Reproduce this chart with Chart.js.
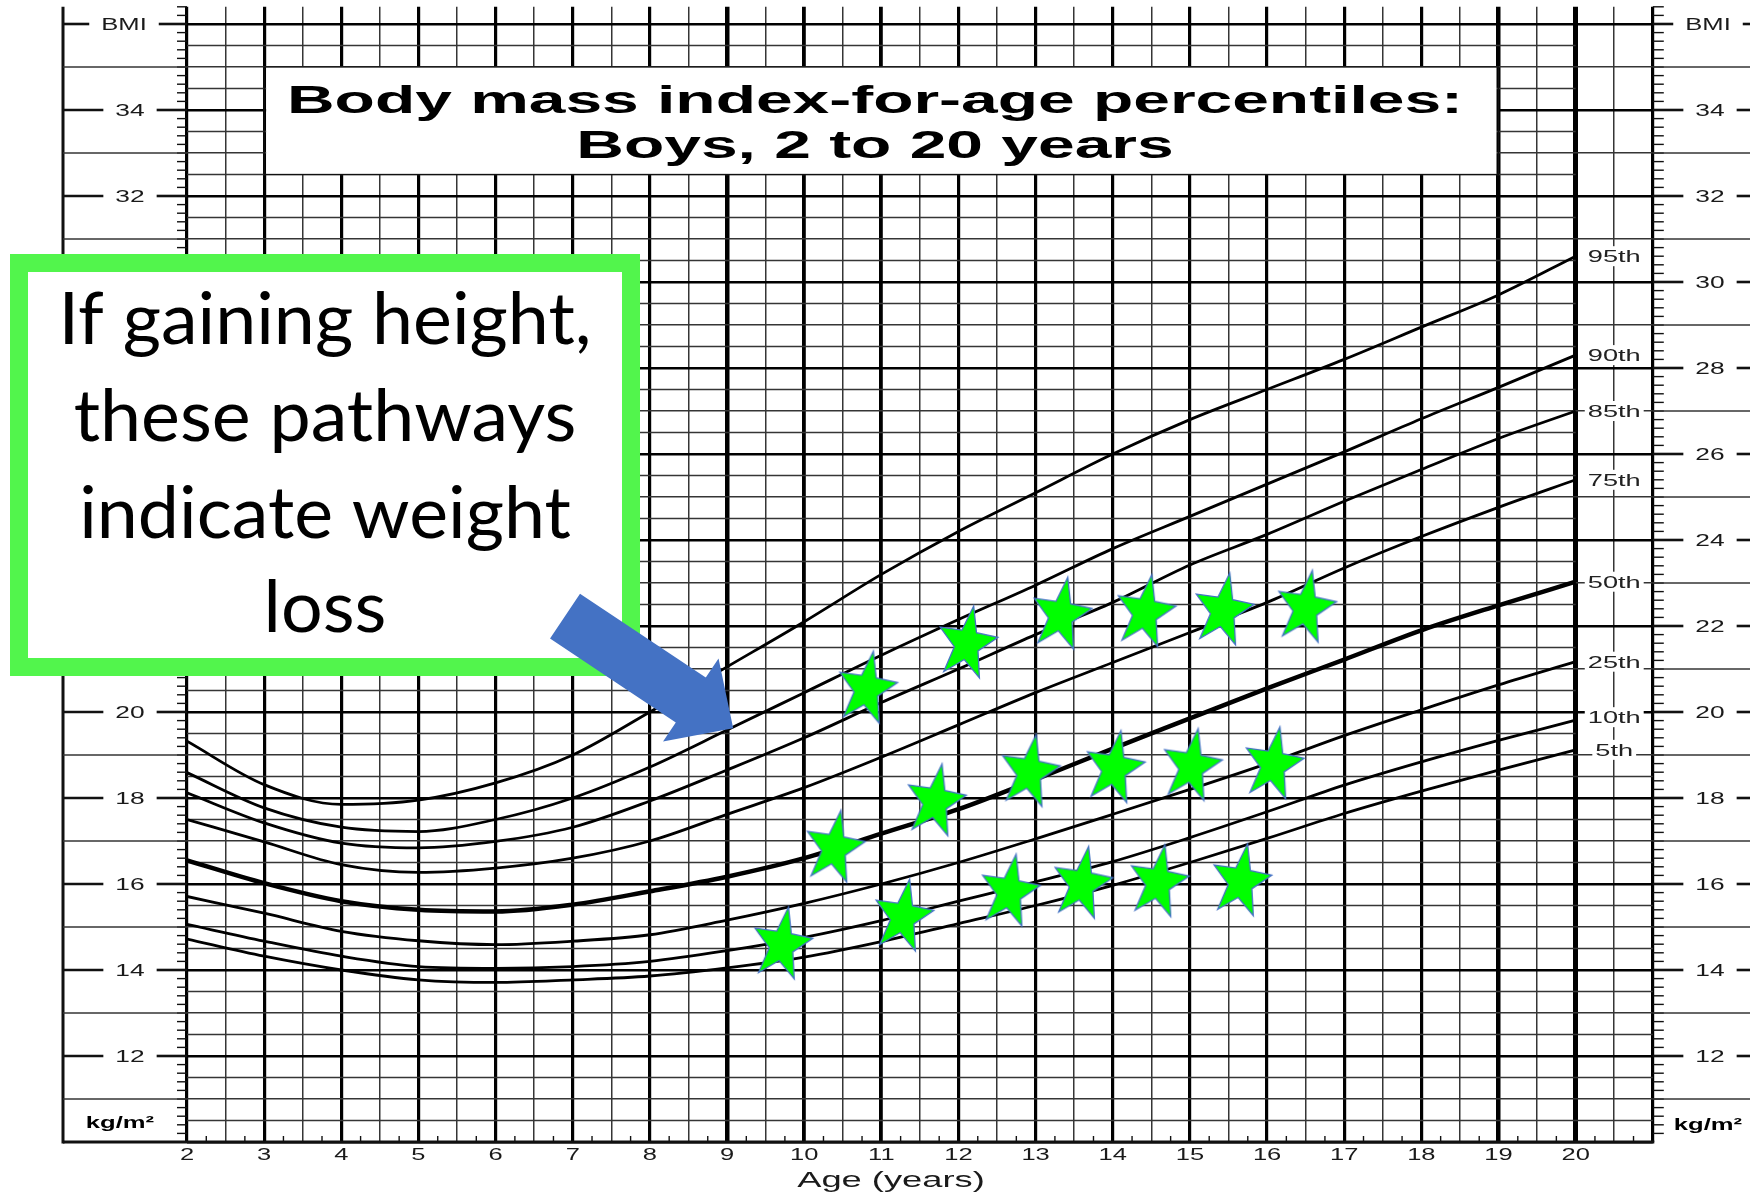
<!DOCTYPE html>
<html>
<head>
<meta charset="utf-8">
<title>BMI-for-age percentiles, boys 2 to 20 years</title>
<script src="https://cdn.jsdelivr.net/npm/chart.js@4.4.1/dist/chart.umd.min.js"></script>
<style>
  html, body { margin: 0; padding: 0; background: #fff; }
  #wrap { position: relative; width: 1750px; height: 1193px; }
</style>
</head>
<body>
<div id="wrap"><canvas id="chart"></canvas></div>
<script>
// percentile curves at whole years of age
const ages = [2,3,4,5,6,7,8,9,10,11,12,13,14,15,16,17,18,19,20];
const p95 = [19.32,18.31,17.85,17.95,18.35,19.0,20.0,21.05,22.1,23.2,24.2,25.1,26.0,26.8,27.5,28.2,28.95,29.7,30.6];
const p90 = [18.59,17.77,17.32,17.22,17.5,18.0,18.72,19.58,20.45,21.32,22.15,22.95,23.8,24.55,25.3,26.05,26.82,27.55,28.3];
const p85 = [18.12,17.42,16.95,16.84,16.99,17.32,17.93,18.65,19.4,20.22,21.0,21.8,22.55,23.42,24.13,24.9,25.64,26.36,27.0];
const p75 = [17.5,16.98,16.45,16.27,16.37,16.6,17.0,17.62,18.24,18.95,19.7,20.45,21.15,21.85,22.55,23.35,24.08,24.76,25.4];
const p50 = [16.55,16.02,15.6,15.4,15.36,15.52,15.83,16.17,16.6,17.17,17.74,18.43,19.15,19.85,20.55,21.22,21.9,22.48,23.03];
const p25 = [15.71,15.32,14.9,14.68,14.59,14.67,14.82,15.16,15.55,16.0,16.5,17.05,17.62,18.2,18.8,19.45,20.05,20.63,21.17];
const p10 = [15.06,14.67,14.32,14.08,14.04,14.08,14.2,14.45,14.76,15.15,15.6,16.05,16.52,17.08,17.68,18.3,18.84,19.34,19.81];
const p5  = [14.72,14.32,14.0,13.77,13.71,13.77,13.86,14.05,14.3,14.66,15.08,15.5,15.97,16.5,17.06,17.64,18.16,18.65,19.12];
const pctNames = ['95th','90th','85th','75th','50th','25th','10th','5th'];
const pctSeries = [p95, p90, p85, p75, p50, p25, p10, p5];

// green stars: [age, BMI]
const starsHigh = [[10.81,20.6],[12.11,21.65],[13.33,22.32],[14.42,22.38],[15.43,22.42],[16.5,22.48]];
const starsMid  = [[10.39,16.9],[11.7,17.98],[12.92,18.66],[14.02,18.75],[15.02,18.8],[16.08,18.84]];
const starsLow  = [[9.71,14.65],[11.28,15.3],[12.66,15.88],[13.6,16.06],[14.59,16.1],[15.66,16.12]];

const ageLabels = [2,3,4,5,6,7,8,9,10,11,12,13,14,15,16,17,18,19,20];
const bmiLabels = [12,14,16,18,20,22,24,26,28,30,32,34];
const titleLines = ['Body mass index-for-age percentiles:', 'Boys, 2 to 20 years'];
const noteLines = ['If gaining height,', 'these pathways', 'indicate weight', 'loss'];
const arrowFrom = [6.9, 22.23];
const arrowTo = [9.08, 19.62];

const INK = '#111';
const THIN = '#353535';
const SANS = '"Liberation Sans", Arial, Helvetica, sans-serif';

function isInt(v){ return Math.abs(v - Math.round(v)) < 1e-6; }

// the chart's lettering is a wide grotesque, so stretch it sideways
function wide(ctx, txt, x, y, font, sx, align, base, color){
  ctx.save();
  ctx.font = font;
  ctx.fillStyle = color || '#1a1a1a';
  ctx.textAlign = align || 'center';
  ctx.textBaseline = base || 'alphabetic';
  ctx.translate(x, y);
  ctx.scale(sx, 1);
  ctx.fillText(txt, 0, 0);
  ctx.restore();
}
function textW(ctx, txt, font){ ctx.save(); ctx.font = font; const w = ctx.measureText(txt).width; ctx.restore(); return w; }

function makeStar(){
  const c = document.createElement('canvas');
  c.width = 76; c.height = 84;
  const g = c.getContext('2d');
  g.translate(38, 45);
  g.rotate(10 * Math.PI / 180);
  g.beginPath();
  for(let k = 0; k < 10; k++){
    const r = k % 2 ? 15.8 : 38.5;
    const a = -Math.PI / 2 + k * Math.PI / 5;
    g.lineTo(Math.cos(a) * r * 0.8, Math.sin(a) * r);
  }
  g.closePath();
  g.fillStyle = '#00ff00';
  g.fill();
  g.strokeStyle = '#4472c4';
  g.lineWidth = 1.3;
  g.stroke();
  return c;
}

function line(ctx, x0, y0, x1, y1){ ctx.beginPath(); ctx.moveTo(x0, y0); ctx.lineTo(x1, y1); ctx.stroke(); }

const paper = {
  id: 'paper',
  beforeDraw(chart){
    const {ctx, width, height} = chart;
    ctx.save(); ctx.fillStyle = '#fff'; ctx.fillRect(0, 0, width, height); ctx.restore();
  },
  beforeDatasetsDraw(chart){
    const {ctx, chartArea: a, scales: {x, y}} = chart;
    ctx.save();
    // half-unit BMI lines (label column 20-21 keeps only whole units up high)
    ctx.strokeStyle = THIN; ctx.lineWidth = 1.5;
    for(let v = 10.5; v < 36.4; v += 1){
      const py = y.getPixelForValue(v);
      const end = v <= 18.5 ? a.right : x.getPixelForValue(20);
      line(ctx, a.left, py, end, py);
    }
    // title box
    const bx0 = x.getPixelForValue(3), bx1 = x.getPixelForValue(19);
    const by0 = y.getPixelForValue(35), by1 = y.getPixelForValue(32.5);
    ctx.fillStyle = '#fff';
    ctx.fillRect(bx0 + 2, by0, bx1 - bx0 - 4, by1 - by0);
    ctx.strokeStyle = INK; ctx.lineWidth = 1.3;
    ctx.strokeRect(bx0, by0, bx1 - bx0, by1 - by0);
    const tf = 'bold 38px ' + SANS;
    const sx = 1176 / textW(ctx, titleLines[0], tf);
    wide(ctx, titleLines[0], 875, by0 + 45.5, tf, sx, 'center', 'alphabetic', '#000');
    wide(ctx, titleLines[1], 875, by0 + 91, tf, sx, 'center', 'alphabetic', '#000');
    ctx.restore();
  },
  afterDraw(chart){
    const {ctx, chartArea: a, scales: {x, y}} = chart;
    const L0 = 63, RMAX = chart.width;
    const lf = '17px ' + SANS;
    ctx.save();
    ctx.strokeStyle = INK;
    // outer frame: left rule and base line
    ctx.lineWidth = 3;
    line(ctx, L0, a.top, L0, a.bottom + 1.5);
    line(ctx, L0, a.bottom, a.right + 1.5, a.bottom);

    // small BMI ticks every 0.2 on both sides
    ctx.lineWidth = 1.4;
    for(let k = 1; k <= 132; k++){
      const v = 10 + k * 0.2;
      const py = y.getPixelForValue(v);
      line(ctx, a.left - 10, py, a.left, py);
      line(ctx, a.right, py, a.right + 11, py);
    }
    // odd whole units run through the label columns
    ctx.strokeStyle = THIN; ctx.lineWidth = 1.5;
    for(let v = 11; v <= 35; v += 2){
      const py = y.getPixelForValue(v);
      line(ctx, L0, py, a.left, py);
      line(ctx, a.right, py, RMAX, py);
    }
    // even units: "— 34 —" on both sides
    const rows = bmiLabels.map(v => [v, String(v), 130, 1710]).concat([[36, 'BMI', 124, 1708]]);
    rows.forEach(([v, t, lx, rx]) => {
      const py = y.getPixelForValue(v);
      const f = t === 'BMI' ? '16px ' + SANS : lf;
      const s = t === 'BMI' ? 1.6 : 1.55;
      const half = textW(ctx, t, f) * s / 2 + 12;
      ctx.strokeStyle = INK; ctx.lineWidth = 2.6;
      line(ctx, L0, py, lx - half, py);
      line(ctx, lx + half, py, a.left, py);
      line(ctx, a.right, py, rx - half, py);
      line(ctx, rx + half, py, RMAX, py);
      wide(ctx, t, lx, py + 6, f, s, 'center', 'alphabetic');
      wide(ctx, t, rx, py + 6, f, s, 'center', 'alphabetic');
    });
    const kf = 'bold 16px ' + SANS;
    wide(ctx, 'kg/m²', 120, y.getPixelForValue(10.44) + 5, kf, 1.6, 'center', 'alphabetic', '#000');
    wide(ctx, 'kg/m²', 1708, y.getPixelForValue(10.4) + 5, kf, 1.6, 'center', 'alphabetic', '#000');

    // quarter-year ticks and age labels
    ctx.strokeStyle = INK; ctx.lineWidth = 1.4;
    for(let t = 2.25; t < 21; t += 0.5){
      const px = x.getPixelForValue(t);
      line(ctx, px, a.bottom, px, a.bottom - 6);
    }
    ageLabels.forEach(v => wide(ctx, String(v), x.getPixelForValue(v), a.bottom + 18, lf, 1.5, 'center', 'alphabetic'));
    wide(ctx, 'Age (years)', 891, 1187, '22px ' + SANS, 1.65, 'center', 'alphabetic');

    // percentile names in the 20-21 column
    const pf = '17px ' + SANS;
    const cx = x.getPixelForValue(20.5);
    pctSeries.forEach((s, i) => {
      const py = y.getPixelForValue(s[s.length - 1]) - (pctNames[i] === '10th' ? 3 : 0);
      const w = textW(ctx, pctNames[i], pf) * 1.6;
      ctx.fillStyle = '#fff';
      ctx.fillRect(cx - w / 2 - 3, py - 10, w + 6, 20);
      wide(ctx, pctNames[i], cx, py + 6, pf, 1.6, 'center', 'alphabetic', '#222');
    });

    // callout box
    ctx.fillStyle = '#fff';
    ctx.fillRect(10, 254, 630, 422);
    ctx.strokeStyle = '#52f54c'; ctx.lineWidth = 18;
    ctx.strokeRect(19, 263, 612, 404);
    const nf = '71px Lato, "Open Sans", sans-serif';
    const ns = 533 / textW(ctx, noteLines[0], nf);
    [344, 441, 538, 632].forEach((by, i) => wide(ctx, noteLines[i], 325, by, nf, ns, 'center', 'alphabetic', '#000'));

    // block arrow
    const tx = x.getPixelForValue(arrowFrom[0]), ty = y.getPixelForValue(arrowFrom[1]);
    const hx = x.getPixelForValue(arrowTo[0]), hy = y.getPixelForValue(arrowTo[1]);
    const len = Math.hypot(hx - tx, hy - ty);
    const ux = (hx - tx) / len, uy = (hy - ty) / len, nx = -uy, ny = ux;
    const sh = 27, hh = 50, hl = 51;
    const bx = hx - ux * hl, by = hy - uy * hl;
    ctx.fillStyle = '#4472c4';
    ctx.beginPath();
    ctx.moveTo(tx + nx * sh, ty + ny * sh);
    ctx.lineTo(bx + nx * sh, by + ny * sh);
    ctx.lineTo(bx + nx * hh, by + ny * hh);
    ctx.lineTo(hx, hy);
    ctx.lineTo(bx - nx * hh, by - ny * hh);
    ctx.lineTo(bx - nx * sh, by - ny * sh);
    ctx.lineTo(tx - nx * sh, ty - ny * sh);
    ctx.closePath();
    ctx.fill();
    ctx.restore();
  }
};

function build(){
  const starImg = makeStar();
  const curves = pctSeries.map((s, i) => ({
    type: 'line',
    label: pctNames[i],
    data: ages.map((a, j) => ({x: a, y: s[j]})),
    borderColor: '#000',
    borderWidth: pctNames[i] === '50th' ? 4.5 : 2.8,
    pointRadius: 0,
    fill: false,
    cubicInterpolationMode: 'monotone',
    order: 1
  }));
  const stars = {
    type: 'scatter',
    label: 'stars',
    data: starsHigh.concat(starsMid, starsLow).map(([a, b]) => ({x: a, y: b})),
    pointStyle: starImg,
    pointRadius: 30,
    order: 0
  };
  new Chart(document.getElementById('chart'), {
    type: 'line',
    data: { datasets: [stars].concat(curves) },
    options: {
      responsive: true,
      maintainAspectRatio: false,
      animation: false,
      events: [],
      layout: { autoPadding: false, padding: { left: 187, right: 97.2, top: 6.8, bottom: 51 } },
      plugins: { legend: { display: false }, tooltip: { enabled: false } },
      scales: {
        x: {
          type: 'linear', min: 2, max: 21,
          ticks: { display: false, stepSize: 0.5 },
          border: { display: false },
          grid: {
            drawTicks: false,
            lineWidth: c => {
              const v = c.tick ? c.tick.value : 0;
              if(!isInt(v)) return 1.5;
              if(v === 20) return 5;
              if(v === 9 || v === 19) return 4.5;
              if(v === 10 || v === 11) return 3.8;
              return 3.2;
            },
            color: c => (c.tick && isInt(c.tick.value)) ? '#000' : THIN
          }
        },
        y: {
          type: 'linear', min: 10, max: 36.4,
          ticks: { display: false, stepSize: 1 },
          border: { display: false },
          grid: {
            drawTicks: false,
            lineWidth: c => {
              const v = c.tick ? c.tick.value : 0;
              if(!isInt(v)) return 0;
              return Math.round(v) % 2 === 0 ? 2.6 : 1.5;
            },
            color: c => (c.tick && Math.round(c.tick.value) % 2 === 0) ? '#000' : THIN
          }
        }
      }
    },
    plugins: [paper]
  });
}

Promise.all([
  document.fonts.load('71px Lato'),
  document.fonts.load('17px "Liberation Sans"'),
  document.fonts.load('bold 38px "Liberation Sans"')
]).catch(() => {}).then(build);
</script>
</body>
</html>
